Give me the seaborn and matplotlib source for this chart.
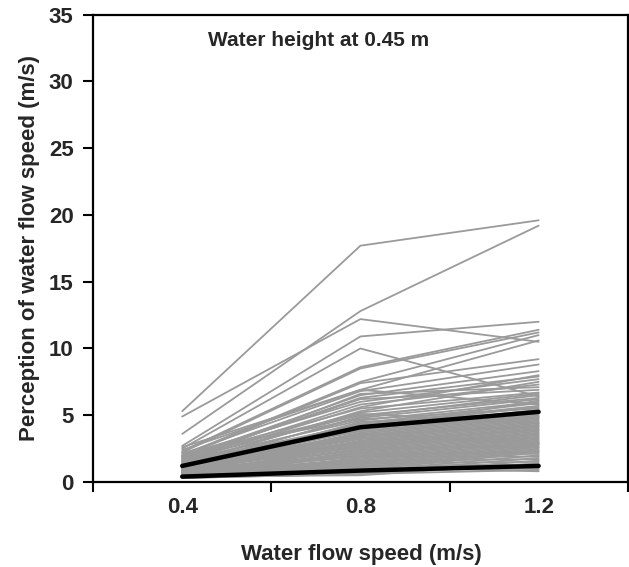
import numpy as np
import pandas as pd
import matplotlib
matplotlib.use("Agg")
import matplotlib.pyplot as plt
import seaborn as sns

speeds = [0.4, 0.8, 1.2]

# individual participants (perceived speed at 0.4, 0.8, 1.2 m/s)
v04 = [5.3, 3.6, 4.9, 2.7, 2.5, 2.3, 2.2, 2.0, 2.4, 1.9, 2.1, 1.8, 1.7, 2.0, 1.6, 1.5,
       1.9, 1.4, 1.7, 1.3, 1.6, 1.2, 1.5, 1.1, 1.4, 1.0, 1.3, 0.9, 1.2, 0.8, 1.1, 0.9,
       1.0, 0.7, 1.2, 0.8, 1.0, 0.6, 0.9, 0.7, 0.8, 0.5, 0.6, 0.9, 0.5, 0.7, 0.4, 0.6,
       0.8, 0.5, 0.4, 0.6, 0.3, 0.5, 0.4, 0.3, 0.5, 0.4, 0.3, 0.4, 0.3, 0.5, 0.3, 0.4,
       1.5, 1.3, 1.8, 2.6, 1.1, 0.9, 1.6, 0.7, 1.0, 1.4, 0.6, 1.2, 0.8, 0.5, 2.2, 1.9,
       1.0, 0.7, 1.3, 0.6, 0.9, 1.1, 0.5, 0.8]
v08 = [17.7, 12.8, 12.2, 10.9, 10.0, 8.6, 8.5, 7.5, 6.9, 7.4, 6.8, 6.5, 6.3, 6.0, 5.8, 6.6,
       5.5, 5.2, 5.0, 4.8, 4.6, 4.4, 4.3, 4.2, 4.0, 3.9, 3.8, 3.7, 3.6, 3.5, 3.4, 3.3,
       3.2, 3.1, 3.0, 2.9, 2.8, 2.7, 2.6, 2.5, 2.4, 2.3, 2.2, 2.1, 2.0, 1.9, 1.8, 1.7,
       1.6, 1.5, 1.4, 1.3, 1.2, 1.1, 1.0, 0.9, 0.8, 0.7, 0.6, 0.5, 0.7, 0.9, 0.6, 1.1,
       5.6, 5.3, 6.2, 6.9, 4.9, 4.5, 3.9, 3.6, 2.9, 3.3, 2.2, 2.6, 1.9, 1.6, 4.7, 5.1,
       3.0, 2.4, 4.1, 1.4, 2.7, 3.5, 1.2, 2.0]
v12 = [19.6, 19.2, 10.5, 12.0, 6.4, 11.4, 11.2, 11.0, 10.6, 9.2, 8.8, 8.3, 7.9, 7.7, 7.3, 7.1,
       6.7, 6.6, 6.3, 6.2, 6.0, 5.9, 5.7, 5.6, 5.4, 5.3, 5.1, 5.0, 4.9, 4.8, 4.7, 4.6,
       4.5, 4.4, 4.3, 4.2, 4.1, 4.0, 3.9, 3.8, 3.7, 3.6, 3.5, 3.4, 3.3, 3.2, 3.1, 3.0,
       2.9, 2.8, 2.7, 2.6, 2.5, 2.4, 2.3, 2.2, 2.0, 1.8, 1.6, 1.4, 1.2, 1.0, 0.9, 0.8,
       8.0, 7.5, 6.9, 5.8, 6.5, 5.2, 6.1, 3.0, 3.3, 2.9, 2.1, 2.6, 1.9, 1.7, 5.5, 4.4,
       3.9, 2.8, 4.8, 1.5, 3.6, 4.2, 1.3, 2.3]

# summary lines (thick black)
mean_line = [1.2, 4.1, 5.25]
low_line = [0.4, 0.85, 1.2]

rows = []
for i, (a, b, c) in enumerate(zip(v04, v08, v12)):
    for s, v in zip(speeds, (a, b, c)):
        rows.append({"subject": i, "speed": s, "value": v})
df = pd.DataFrame(rows)
sumdf = pd.DataFrame({
    "speed": speeds * 2,
    "value": mean_line + low_line,
    "line": ["mean"] * 3 + ["low"] * 3,
})

sns.set_style("white")
plt.rcParams["font.family"] = ["Liberation Sans", "DejaVu Sans"]

fig = plt.figure(figsize=(6.29, 5.67), dpi=100)
ax = fig.add_axes([0.148, 0.150, 0.850, 0.824])

sns.lineplot(data=df, x="speed", y="value", units="subject", estimator=None,
             color="#9a9a9a", linewidth=1.3, ax=ax, legend=False)
sns.lineplot(data=sumdf, x="speed", y="value", units="line", estimator=None,
             color="black", linewidth=3.2, ax=ax, legend=False, solid_capstyle="round")

ax.set_xlim(0.2, 1.4)
ax.set_ylim(0, 35)
ax.set_xticks(speeds)
ax.set_xticklabels(["0.4", "0.8", "1.2"])
ax.set_xticks([0.2, 0.6, 1.0, 1.4], minor=True)
ax.tick_params(axis="x", which="major", length=0, pad=11, labelsize=16)
ax.tick_params(axis="x", which="minor", length=7, width=1.5, direction="out",
               bottom=True, color="black")
ax.set_yticks(range(0, 36, 5))
ax.tick_params(axis="y", which="major", length=7, width=1.5, direction="out",
               left=True, pad=7, labelsize=16, color="black")
for lab in ax.get_xticklabels() + ax.get_yticklabels():
    lab.set_fontweight("bold")

for sp in ax.spines.values():
    sp.set_visible(True)
    sp.set_color("black")
    sp.set_linewidth(1.6)

ax.set_xlabel("Water flow speed (m/s)", fontsize=16, fontweight="bold")
ax.set_ylabel("Perception of water flow speed (m/s)", fontsize=16, fontweight="bold")
ax.xaxis.set_label_coords(0.502, -0.133)
ax.yaxis.set_label_coords(-0.100, 0.5)

ax.text(0.707, 33.1, "Water height at 0.45 m", ha="center", va="center",
        fontsize=15, fontweight="bold")

fig.savefig("out.png", dpi=100)
